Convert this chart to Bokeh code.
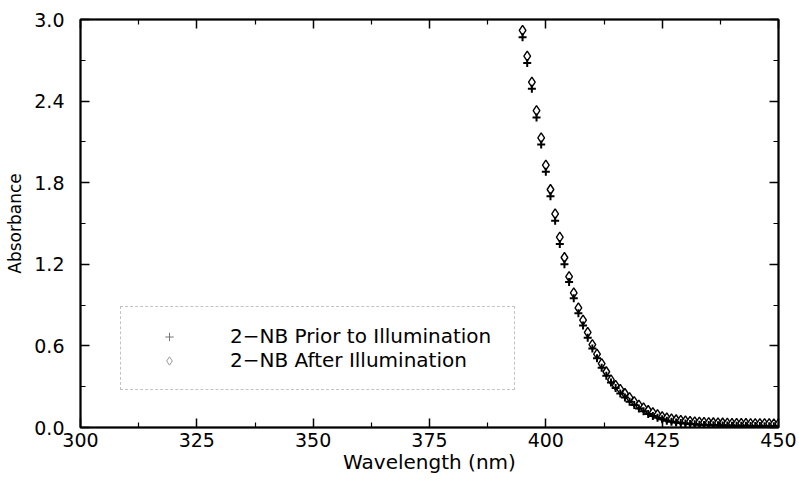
from bokeh.plotting import figure
from bokeh.models import (Legend, LegendItem, LinearAxis, FixedTicker, Range1d,
                          PrintfTickFormatter, ColumnDataSource)
from bokeh.embed import file_html
from bokeh.resources import INLINE

# ---- data ----
wavelength = [395, 396, 397, 398, 399, 400, 401, 402, 403, 404, 405, 406, 407, 408, 409,
              410, 411, 412, 413, 414, 415, 416, 417, 418, 419, 420, 421, 422, 423, 424,
              425, 426, 427, 428, 429, 430, 431, 432, 433, 434, 435, 436, 437, 438, 439,
              440, 441, 442, 443, 444, 445, 446, 447, 448, 449, 450]
after_illum = [2.92, 2.73, 2.54, 2.33, 2.13, 1.93, 1.75, 1.57, 1.40, 1.25, 1.11, 0.99, 0.88, 0.79, 0.70,
               0.61, 0.54, 0.47, 0.41, 0.35, 0.31, 0.28, 0.25, 0.22, 0.19, 0.165, 0.145, 0.125, 0.11, 0.095,
               0.08, 0.07, 0.063, 0.057, 0.052, 0.048, 0.045, 0.042, 0.040, 0.038, 0.036, 0.035, 0.034, 0.033, 0.032,
               0.031, 0.031, 0.030, 0.030, 0.029, 0.029, 0.028, 0.028, 0.028, 0.027, 0.027]
prior_illum = [2.87, 2.68, 2.49, 2.28, 2.08, 1.88, 1.70, 1.52, 1.35, 1.20, 1.07, 0.95, 0.84, 0.75, 0.66,
               0.58, 0.51, 0.44, 0.38, 0.33, 0.29, 0.25, 0.22, 0.19, 0.165, 0.14, 0.12, 0.10, 0.085, 0.072,
               0.06, 0.05, 0.043, 0.037, 0.033, 0.029, 0.026, 0.023, 0.021, 0.019, 0.018, 0.017, 0.016, 0.015, 0.014,
               0.013, 0.013, 0.012, 0.012, 0.011, 0.011, 0.011, 0.010, 0.010, 0.010, 0.010]
x_ticks = [300, 325, 350, 375, 400, 425, 450]
x_minor = [312.5, 337.5, 362.5, 387.5, 412.5, 437.5]
y_ticks = [0.0, 0.6, 1.2, 1.8, 2.4, 3.0]
y_minor = [0.3, 0.9, 1.5, 2.1, 2.7]
label_prior = "2\u2212NB Prior to Illumination"
label_after = "2\u2212NB After Illumination"

FONT = "DejaVu Sans"

p = figure(width=799, height=481, x_range=Range1d(300, 450), y_range=Range1d(0, 3.0),
           output_backend="svg", toolbar_location=None,
           x_axis_location=None, y_axis_location=None,
           min_border_left=80, min_border_right=21, min_border_top=19, min_border_bottom=54)
p.grid.visible = False
p.outline_line_color = "black"
p.outline_line_width = 2
p.background_fill_color = "white"
p.border_fill_color = "white"

xt = FixedTicker(ticks=x_ticks, minor_ticks=x_minor)
yt = FixedTicker(ticks=y_ticks, minor_ticks=y_minor)


def style(ax, show_labels, tick_size="19px", title_size="16px"):
    ax.major_tick_in = 9
    ax.major_tick_out = 0
    ax.minor_tick_in = 5
    ax.minor_tick_out = 0
    ax.major_tick_line_width = 1.5
    ax.minor_tick_line_width = 1.2
    ax.axis_line_width = 1.5
    ax.axis_line_color = "black"
    ax.major_tick_line_color = "black"
    ax.minor_tick_line_color = "black"
    if show_labels:
        ax.major_label_text_font = FONT
        ax.major_label_text_font_size = tick_size
        ax.major_label_text_color = "black"
        ax.axis_label_text_font = FONT
        ax.axis_label_text_font_size = title_size
        ax.axis_label_text_font_style = "normal"
        ax.axis_label_text_color = "black"
    else:
        ax.major_label_text_font_size = "0px"
        ax.major_label_standoff = 0


bottom = LinearAxis(ticker=xt, axis_label="Wavelength (nm)")
style(bottom, True, "19px", "20px")
bottom.major_label_standoff = 5
bottom.axis_label_standoff = 0
p.add_layout(bottom, "below")

left = LinearAxis(ticker=yt, axis_label="Absorbance",
                  formatter=PrintfTickFormatter(format="%.1f"))
style(left, True, "19px", "17px")
left.major_label_standoff = 16
left.axis_label_standoff = 6
p.add_layout(left, "left")

top = LinearAxis(ticker=xt)
style(top, False)
p.add_layout(top, "above")

right = LinearAxis(ticker=yt)
style(right, False)
p.add_layout(right, "right")

src = ColumnDataSource(dict(x=wavelength, a=after_illum, b=prior_illum))
p.scatter("x", "a", source=src, marker="diamond", size=10, fill_color="white",
          line_color="black", line_width=1.4)
p.scatter("x", "b", source=src, marker="cross", size=8, line_color="black",
          line_width=2)

# legend-only glyphs (small, faint as in the reference); NaN rows are not drawn in the plot
nan = float("nan")
leg_src = ColumnDataSource(dict(x=[nan], y=[nan]))
lp = p.scatter("x", "y", source=leg_src, marker="cross", size=6, line_color="#777777", line_width=1)
la = p.scatter("x", "y", source=leg_src, marker="diamond", size=7, fill_color="white",
               line_color="#999999", line_width=1)

legend = Legend(items=[LegendItem(label=label_prior, renderers=[lp], index=0),
                       LegendItem(label=label_after, renderers=[la], index=0)],
                location=(40, 37), orientation="vertical",
                padding=17, spacing=0, margin=0,
                glyph_width=62, glyph_height=21, label_height=21, label_width=267,
                label_standoff=30,
                label_text_font=FONT, label_text_font_size="20px", label_text_color="black",
                label_text_baseline="middle",
                border_line_color="#888888", border_line_width=1, border_line_dash="2 1",
                background_fill_color="white", background_fill_alpha=1.0)
p.add_layout(legend, "center")

open("out.html", "w").write(file_html(p, INLINE))
